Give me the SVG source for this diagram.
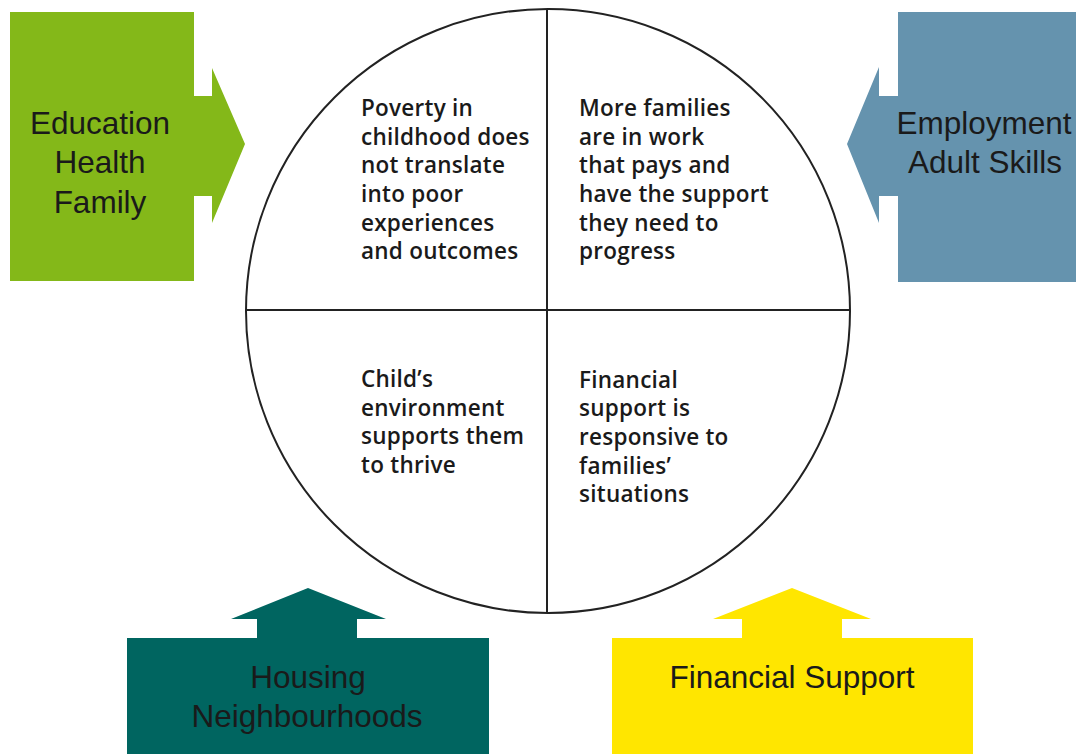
<svg xmlns="http://www.w3.org/2000/svg" width="1076" height="754" viewBox="0 0 1076 754">
  <style>
    .lbl { font-family: "Liberation Sans", Arial, sans-serif; font-size: 31.5px; fill: #1a1a1a; text-anchor: middle; }
    .goal { font-family: "Open Sans", "Liberation Sans", sans-serif; font-size: 22.5px; font-weight: 600; letter-spacing: 0.25px; fill: #1a1a1a; }
    .ring { fill: #ffffff; stroke: #222222; stroke-width: 2; }
    .div { stroke: #222222; stroke-width: 2; fill: none; }
  </style>
  <rect width="1076" height="754" fill="#ffffff"/>

  <!-- central outcomes circle -->
  <g id="outcomes">
    <circle class="ring" cx="548" cy="311" r="302"/>
    <line class="div" x1="547" y1="9" x2="547" y2="613"/>
    <line class="div" x1="246" y1="310" x2="850" y2="310"/>
  </g>

  <g id="goal-poverty">
    <text class="goal" x="361">
      <tspan x="361" y="116">Poverty in</tspan>
      <tspan x="361" y="145">childhood does</tspan>
      <tspan x="361" y="173">not translate</tspan>
      <tspan x="361" y="202">into poor</tspan>
      <tspan x="361" y="231">experiences</tspan>
      <tspan x="361" y="259">and outcomes</tspan>
    </text>
  </g>
  <g id="goal-work">
    <text class="goal" x="579">
      <tspan x="579" y="116">More families</tspan>
      <tspan x="579" y="145">are in work</tspan>
      <tspan x="579" y="173">that pays and</tspan>
      <tspan x="579" y="202">have the support</tspan>
      <tspan x="579" y="231">they need to</tspan>
      <tspan x="579" y="259">progress</tspan>
    </text>
  </g>
  <g id="goal-environment">
    <text class="goal" x="361">
      <tspan x="361" y="387">Child’s</tspan>
      <tspan x="361" y="416">environment</tspan>
      <tspan x="361" y="444">supports them</tspan>
      <tspan x="361" y="473">to thrive</tspan>
    </text>
  </g>
  <g id="goal-financial">
    <text class="goal" x="579">
      <tspan x="579" y="388">Financial</tspan>
      <tspan x="579" y="416">support is</tspan>
      <tspan x="579" y="445">responsive to</tspan>
      <tspan x="579" y="474">families’</tspan>
      <tspan x="579" y="502">situations</tspan>
    </text>
  </g>

  <!-- input arrows feeding the circle -->
  <g id="education">
    <path fill="#84b819" d="M10,12 H194 V96 H212 V68 L245,144 L212,223 V196 H194 V281 H10 Z"/>
    <text class="lbl" x="100" y="134">Education</text>
    <text class="lbl" x="100" y="173">Health</text>
    <text class="lbl" x="100" y="213">Family</text>
  </g>

  <g id="employment">
    <path fill="#6593ae" d="M1076,12 H898 V96 H879 V67 L847,144 L879,223 V196 H898 V282 H1076 Z"/>
    <text class="lbl" x="984" y="134">Employment</text>
    <text class="lbl" x="985" y="173">Adult Skills</text>
  </g>

  <g id="housing">
    <path fill="#006560" d="M127,754 V638 H257 V619 H231 L308,588 L386,619 H357 V638 H489 V754 Z"/>
    <text class="lbl" x="308" y="688">Housing</text>
    <text class="lbl" x="307" y="727">Neighbourhoods</text>
  </g>

  <g id="financial-support">
    <path fill="#ffe600" d="M612,754 V638 H742 V619 H713 L792,588 L871,619 H842 V638 H973 V754 Z"/>
    <text class="lbl" x="792" y="688">Financial Support</text>
  </g>
</svg>
